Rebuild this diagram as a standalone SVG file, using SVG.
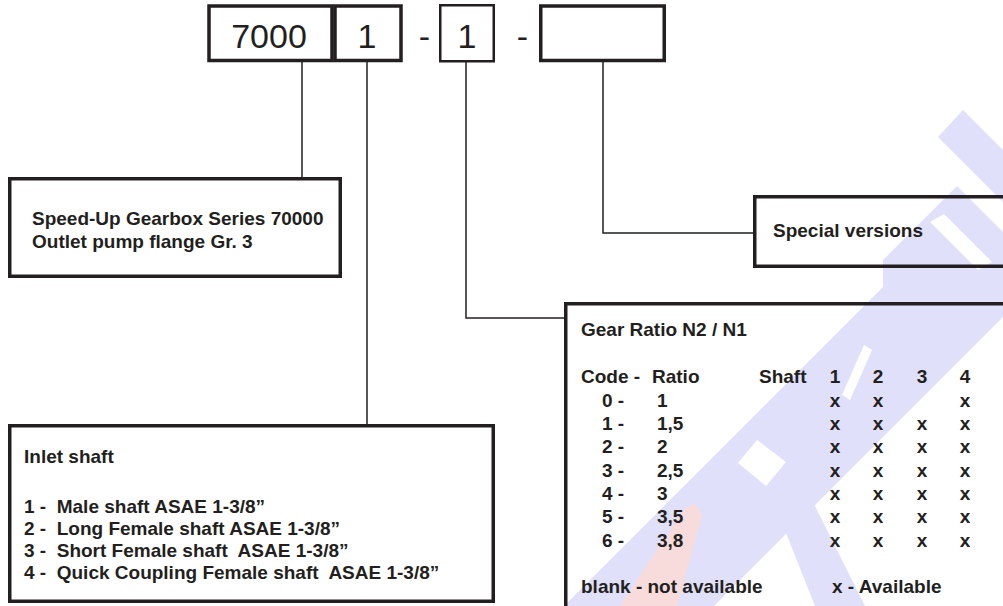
<svg xmlns="http://www.w3.org/2000/svg" width="1003" height="606" viewBox="0 0 1003 606">
<style>
.box{fill:none;stroke:#231f20;stroke-width:3.5}
.thin{fill:none;stroke:#231f20;stroke-width:2.5}
.con{fill:none;stroke:#231f20;stroke-width:1.5}
.code{font-family:"Liberation Sans",Arial,sans-serif;font-size:34px;fill:#231f20}
.t{font-family:"Liberation Sans",Arial,sans-serif;font-size:19px;font-weight:bold;fill:#231f20;white-space:pre}
.c{text-anchor:middle}
.wm{fill:#e0e0fa}
.wr{fill:#f8dcdc}
.ww{fill:#ffffff}
</style>
<rect width="1003" height="606" fill="#ffffff"/>
<g id="watermark">
<polygon class="wm" points="963,110 1003,150 1003,202 938,137"/>
<polygon class="wm" points="957,186 1003,232 1003,317 714,606 564,606 883,287 883,260"/>
<polygon class="wm" points="765,480 795,466 865,606 815,606"/>
<polygon class="ww" points="930,222 944,214 992,262 978,270"/>
<polygon class="ww" points="864,345 872,350 850,400 842,395"/>
<polygon class="ww" points="757,440 786,462 766,486 738,463"/>
<polygon class="wr" points="683,510 695,503 702,515 677,606 620,606"/>
</g>
<g id="connectors">
<path class="con" d="M302,62 V177"/>
<path class="con" d="M367,62 V424"/>
<path class="con" d="M466,62 V318 H564"/>
<path class="con" d="M603,62 V233 H754"/>
</g>
<g id="code-7000">
<rect class="box" x="209" y="6" width="123" height="54.5"/>
<text class="code c" x="269" y="48">7000</text>
</g>
<g id="code-inlet">
<rect class="box" x="335" y="6" width="66" height="54.5"/>
<text class="code c" x="367" y="48">1</text>
</g>
<text class="code c" x="424.5" y="48">-</text>
<g id="code-ratio">
<rect class="thin" x="440.25" y="5.25" width="53.5" height="56"/>
<text class="code c" x="467" y="48">1</text>
</g>
<text class="code c" x="522.5" y="48">-</text>
<g id="code-special">
<rect class="box" x="540.75" y="6" width="123.5" height="54.5"/>
</g>
<g id="series">
<rect class="box" x="9.75" y="178.75" width="330.5" height="97.5"/>
<text class="t" x="32" y="225">Speed-Up Gearbox Series 70000</text>
<text class="t" x="32" y="248">Outlet pump flange Gr. 3</text>
</g>
<g id="special">
<rect class="box" x="754.75" y="196.75" width="260" height="69.5"/>
<text class="t" x="773" y="237">Special versions</text>
</g>
<g id="gear-ratio">
<rect class="box" x="565.75" y="303.75" width="450" height="320"/>
<text class="t" x="581" y="336">Gear Ratio N2 / N1</text>
<text class="t" x="581" y="383">Code -</text>
<text class="t" x="652" y="383">Ratio</text>
<text class="t" x="759" y="383">Shaft</text>
<text class="t c" x="835" y="383">1</text>
<text class="t c" x="878" y="383">2</text>
<text class="t c" x="922" y="383">3</text>
<text class="t c" x="965" y="383">4</text>
<text class="t" x="602" y="406.7">0 -</text><text class="t" x="657" y="406.7">1</text>
<text class="t c" x="835" y="406.7">x</text><text class="t c" x="878" y="406.7">x</text><text class="t c" x="965" y="406.7">x</text>
<text class="t" x="602" y="430">1 -</text><text class="t" x="657" y="430">1,5</text>
<text class="t c" x="835" y="430">x</text><text class="t c" x="878" y="430">x</text><text class="t c" x="922" y="430">x</text><text class="t c" x="965" y="430">x</text>
<text class="t" x="602" y="453.3">2 -</text><text class="t" x="657" y="453.3">2</text>
<text class="t c" x="835" y="453.3">x</text><text class="t c" x="878" y="453.3">x</text><text class="t c" x="922" y="453.3">x</text><text class="t c" x="965" y="453.3">x</text>
<text class="t" x="602" y="476.7">3 -</text><text class="t" x="657" y="476.7">2,5</text>
<text class="t c" x="835" y="476.7">x</text><text class="t c" x="878" y="476.7">x</text><text class="t c" x="922" y="476.7">x</text><text class="t c" x="965" y="476.7">x</text>
<text class="t" x="602" y="500">4 -</text><text class="t" x="657" y="500">3</text>
<text class="t c" x="835" y="500">x</text><text class="t c" x="878" y="500">x</text><text class="t c" x="922" y="500">x</text><text class="t c" x="965" y="500">x</text>
<text class="t" x="602" y="523.3">5 -</text><text class="t" x="657" y="523.3">3,5</text>
<text class="t c" x="835" y="523.3">x</text><text class="t c" x="878" y="523.3">x</text><text class="t c" x="922" y="523.3">x</text><text class="t c" x="965" y="523.3">x</text>
<text class="t" x="602" y="546.7">6 -</text><text class="t" x="657" y="546.7">3,8</text>
<text class="t c" x="835" y="546.7">x</text><text class="t c" x="878" y="546.7">x</text><text class="t c" x="922" y="546.7">x</text><text class="t c" x="965" y="546.7">x</text>
<text class="t" x="581" y="593">blank - not available</text>
<text class="t" x="832" y="593">x - Available</text>
</g>
<g id="inlet-shaft">
<rect class="box" x="9.75" y="425.75" width="483.5" height="175.5"/>
<text class="t" x="24" y="463">Inlet shaft</text>
<text class="t" x="24" y="513">1 -  Male shaft ASAE 1-3/8”</text>
<text class="t" x="24" y="535">2 -  Long Female shaft ASAE 1-3/8”</text>
<text class="t" x="24" y="557">3 -  Short Female shaft  ASAE 1-3/8”</text>
<text class="t" x="24" y="579">4 -  Quick Coupling Female shaft  ASAE 1-3/8”</text>
</g>
</svg>
